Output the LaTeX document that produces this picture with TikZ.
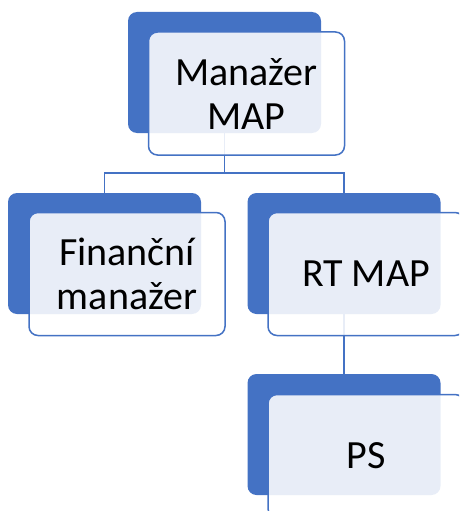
\documentclass[tikz,border=0pt]{standalone}
\usepackage{fontspec}
\setmainfont{Carlito}
\usepackage{xcolor}
\usetikzlibrary{positioning,backgrounds}
\definecolor{mapblue}{HTML}{4472C4}

\begin{document}
\begin{tikzpicture}[x=1pt,y=-1pt,
	back/.style={fill=mapblue, rounded corners=9pt, minimum width=193pt, minimum height=121pt, inner sep=0pt},
	front/.style={draw=mapblue, line width=1.5pt, fill=white, fill opacity=0.88, text opacity=1, rounded corners=9pt,
		minimum width=196pt, minimum height=123pt, inner sep=0pt, align=center, font=\fontsize{40}{44}\selectfont},
	link/.style={draw=mapblue, line width=1.8pt}]
	\useasboundingbox (0,0) rectangle (459,511);
	\clip (0,0) rectangle (459,511);
	% boxes
	\node[back] (mapB) at (224.5,72.5) {};
	\node[front] (map) at (246.5,93.5) {Manažer\\MAP};
	\node[back] (finB) at (104.5,253.5) {};
	\node[front] (fin) at (127,274) {Finanční\\manažer};
	\node[back] (rtB) at (344,253.5) {};
	\node[front] (rt) at (366,274) {RT MAP};
	\node[back] (psB) at (344,434.5) {};
	\node[front] (ps) at (366,456) {PS};

	%\draw (map) -- (fin);
	\begin{pgfonlayer}{background}
		\draw[link] (mapB.south) -- ++(0,40) -| (finB.north);
		\draw[link] (mapB.south) -- ++(0,40) -| (rtB.north);
		\draw[link] (rtB.south) -- (psB.north);
	\end{pgfonlayer}
\end{tikzpicture}
\end{document}
